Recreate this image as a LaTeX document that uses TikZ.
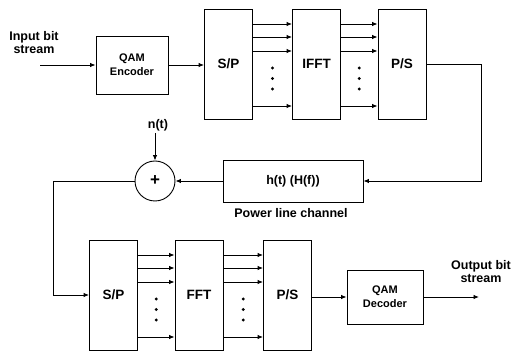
\documentclass[tikz,border=0pt]{standalone}
\usepackage{fontspec}
\setmainfont{Liberation Sans}
\usetikzlibrary{arrows.meta,calc}

\begin{document}
\begin{tikzpicture}[x=1pt,y=-1pt,line width=.9pt,
  >={Latex[length=5.5pt,width=4.5pt]},
  blk/.style={draw,minimum width=48pt,minimum height=110pt,inner sep=0pt,
    font=\fontsize{13.5}{15}\bfseries},
  qam/.style={draw,minimum width=72pt,minimum height=58pt,inner sep=0pt,
    align=center,font=\fontsize{11}{14}\bfseries},
  lbl/.style={align=center,inner sep=0pt,font=\fontsize{12.5}{13}\bfseries}]
  \useasboundingbox (0,0) rectangle (515,352);

  % Transmitter
  \node[lbl] (inlbl) at (34,43) {Input bit\\stream};
  \coordinate (in) at (40,65);
  \node[qam] (enc) at (132,65) {QAM\\Encoder};
  \node[blk] (sp1) at (228.5,64) {S/P};
  \node[blk] (ifft) at (316.5,64) {IFFT};
  \node[blk] (ps1) at (402,64) {P/S};
  \draw[->] (in) -- (enc.west);
  \draw[->] (enc.east) -- (enc.east -| sp1.west);
  \foreach \d in {40,27,13,-42} {
    \draw[->] ([yshift=\d pt]sp1.east) -- ([yshift=\d pt]ifft.west);
    \draw[->] ([yshift=\d pt]ifft.east) -- ([yshift=\d pt]ps1.west);
  }
  \foreach \a/\b in {sp1/ifft,ifft/ps1} {
    \foreach \d in {-4,-14.5,-25} {
      \fill ([yshift=\d pt]$(\a.east)!.5!(\b.west)$) circle (1.6pt);
    }
  }

  % Channel and noise
  \coordinate (turn) at (481,181);
  \node[draw,minimum width=140pt,minimum height=42pt,font=\fontsize{12.5}{14}\bfseries]
    (chan) at (293,181) {h(t) (H(f))};
  \node[lbl] (chlbl) at (291,213) {Power line channel};
  \node[draw,circle,minimum size=40pt,inner sep=0pt,font=\fontsize{17}{17}\bfseries]
    (add) at (155,181) {+};
  \node[lbl] (nt) at (158,125) {n(t)};
  \draw[->] (ps1.east) -| (turn) -- (chan.east);
  \draw[->] (chan.west) -- (add.east);
  \draw[->] ([yshift=-2pt]nt.south -| add.north) -- (add.north);

  % Receiver
  \coordinate (loop) at (53,181);
  \node[blk] (sp2) at (113.5,295) {S/P};
  \node[blk] (fft) at (199,295) {FFT};
  \node[blk] (ps2) at (287.5,295) {P/S};
  \node[qam,minimum width=76pt,minimum height=54pt] (dec) at (385,297) {QAM\\Decoder};
  \coordinate (out) at (479,297);
  \node[lbl] (outlbl) at (481,272) {Output bit\\stream};
  \draw[->] (add.west) -- (loop) |- (sp2.west);
  \foreach \d in {40,27,13,-42} {
    \draw[->] ([yshift=\d pt]sp2.east) -- ([yshift=\d pt]fft.west);
    \draw[->] ([yshift=\d pt]fft.east) -- ([yshift=\d pt]ps2.west);
  }
  \foreach \a/\b in {sp2/fft,fft/ps2} {
    \foreach \d in {-4,-14.5,-25} {
      \fill ([yshift=\d pt]$(\a.east)!.5!(\b.west)$) circle (1.6pt);
    }
  }
  \draw[->] (dec.west -| ps2.east) -- (dec.west);
  \draw[->] (dec.east) -- (out);
\end{tikzpicture}
\end{document}
